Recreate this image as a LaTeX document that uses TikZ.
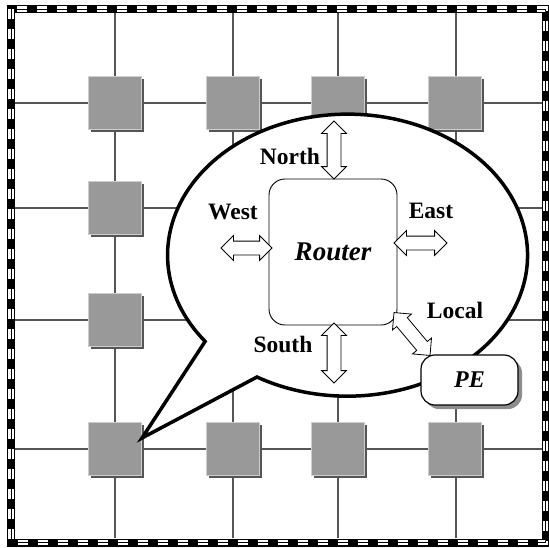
\documentclass[tikz,border=0pt]{standalone}
\usepackage{fontspec}
\setmainfont{Liberation Serif}
\definecolor{cTile}{HTML}{999999}
\definecolor{cTileLight}{HTML}{CDCDCD}
\definecolor{cTileDark}{HTML}{555555}
\definecolor{cWire}{HTML}{555555}
\definecolor{cShade}{HTML}{8C8C8C}
\usetikzlibrary{shapes,arrows}
\usetikzlibrary{shadows}
\usetikzlibrary{calc}

\tikzset{
	tile/.style={rectangle, minimum size=53pt, inner sep=0pt, fill=cTile, draw=cTileLight, line width=1.5pt,
		copy shadow={shadow xshift=2.5pt, shadow yshift=-2.5pt, fill=cTileDark, draw=none}},
	port/.style={double arrow, draw, fill=white, line width=0.8pt, inner sep=6.5pt, double arrow head extend=5.5pt},
	lbl/.style={font=\fontsize{23.5}{26}\selectfont\bfseries},
}

\begin{document}
\begin{tikzpicture}[x=1pt, y=-1pt]
		\useasboundingbox (0,0) rectangle (549,547);
		% mesh wires
		\foreach \x in {115,233,338,456} \draw [cWire, line width=1.3pt] (\x,13) -- (\x,538);
		\foreach \y in {103,208,320,449} \draw [cWire, line width=1.3pt] (15,\y) -- (542,\y);
		% tiles
		\foreach \x [count=\i] in {115,233,338,455}
			\foreach \y [count=\j] in {103,208,320,449}
				\node [tile] (tile-\j-\i) at (\x,\y) {};
		% speech bubble
		\draw [line width=3.5pt, fill=white, line join=miter] (257,377) arc[start angle=120.2, end angle=-217.7, x radius=180, y radius=141] -- (142,438) -- cycle;
		\node [draw, rounded corners=16pt, minimum width=128pt, minimum height=146pt, line width=0.9pt,
			font=\fontsize{27}{30}\selectfont\bfseries\itshape] (router) at (333,252) {Router};
		% ports
		\node [port, minimum height=58pt, rotate=90] (north) at (334,150) {};
		\node [port, minimum height=51pt] (west) at (246.5,248) {};
		\node [port, minimum height=53pt] (east) at (420.5,243) {};
		\node [port, minimum height=60pt, rotate=90] (south) at (334,353) {};
		\node [port, minimum height=56pt, rotate=-50] (local) at (412,334) {};
		% processing element
		\node [draw, fill=white, rounded corners=14pt, minimum width=97pt, minimum height=50pt, line width=1.2pt,
			copy shadow={shadow xshift=4pt, shadow yshift=-4pt, fill=cShade, draw=none},
			font=\fontsize{24}{26}\selectfont\bfseries\itshape] (pe) at (469.5,380) {PE};
		\draw (290,156) node[lbl] {North} (233,212) node[lbl] {West} (431,211) node[lbl] {East};
		\draw (283,344) node[lbl] {South} (455,310) node[lbl] {Local};
		% chain frame
		\draw [line width=8pt] (11,9) rectangle (545.5,542.5);
		\draw [white, line width=5.5pt, dash pattern=on 10pt off 10pt] (11,9) rectangle (545.5,542.5);
		\draw [line width=1pt, dash pattern=on 10pt off 10pt] (11,9) rectangle (545.5,542.5);
		\end{tikzpicture}
\end{document}
